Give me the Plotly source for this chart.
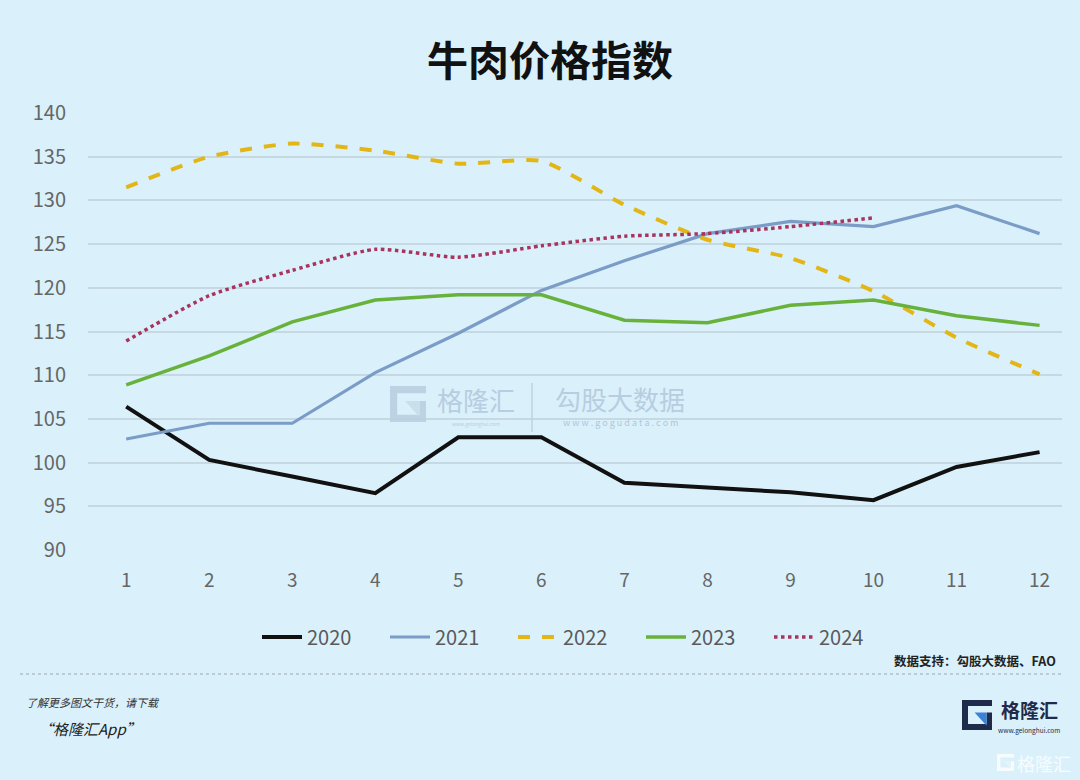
import plotly.graph_objects as go

months = list(range(1, 13))
tick_labels = [str(m) for m in months]
y_ticks = [90, 95, 100, 105, 110, 115, 120, 125, 130, 135, 140]

v2020 = [106.4, 100.3, 98.4, 96.5, 102.9, 102.9, 97.7, 97.1, 96.6, 95.7, 99.5, 101.2]
v2021 = [102.7, 104.5, 104.5, 110.3, 114.8, 119.7, 123.1, 126.2, 127.6, 127.0, 129.4, 126.2]
v2022 = [131.5, 135.0, 136.5, 135.7, 134.2, 134.5, 129.5, 125.5, 123.4, 119.6, 114.3, 110.1]
v2023 = [108.9, 112.2, 116.1, 118.6, 119.2, 119.2, 116.3, 116.0, 118.0, 118.6, 116.8, 115.7]
v2024 = [113.9, 119.1, 122.0, 124.4, 123.5, 124.8, 125.9, 126.2, 127.0, 128.0]

FW, FH = 1080, 780
L, R, T, B = 88, 18, 113, 230
W = FW - L - R
H = FH - T - B


def PX(x):
    return (x - L) / W


def PY(y):
    return 1 - (y - T) / H


BG = "#daf1fb"
FONT = "Noto Sans CJK SC"

fig = go.Figure()
fig.add_trace(go.Scatter(x=months, y=v2020, name="2020", mode="lines",
                         line=dict(color="#111111", width=4)))
fig.add_trace(go.Scatter(x=months, y=v2021, name="2021", mode="lines",
                         line=dict(color="#7a9cc6", width=3.2)))
fig.add_trace(go.Scatter(x=months, y=v2022, name="2022", mode="lines",
                         line=dict(color="#e3b617", width=4, dash="dash", shape="spline", smoothing=0.6)))
fig.add_trace(go.Scatter(x=months, y=v2023, name="2023", mode="lines",
                         line=dict(color="#68b23c", width=3.5)))
fig.add_trace(go.Scatter(x=months[:len(v2024)], y=v2024, name="2024", mode="lines",
                         line=dict(color="#a8335e", width=3.5, dash="dot", shape="spline", smoothing=0.6)))

shapes = []
annotations = []


def g_logo(x0, y0, s, navy, blue, opacity=1.0):
    def P(u, v):
        return f"{PX(x0 + u * s):.5f},{PY(y0 + v * s):.5f}"
    outer = [(1, 0), (0, 0), (0, 1), (1, 1), (1, 0.42), (0.82, 0.42), (0.82, 0.8),
             (0.2, 0.8), (0.2, 0.2), (1, 0.2)]
    path = "M " + " L ".join(P(u, v) for u, v in outer) + " Z"
    shapes.append(dict(type="path", xref="paper", yref="paper", path=path,
                       fillcolor=navy, line=dict(width=0), opacity=opacity, layer="above"))
    tri = [(0.42, 0.42), (0.82, 0.42), (0.82, 0.86)]
    path2 = "M " + " L ".join(P(u, v) for u, v in tri) + " Z"
    shapes.append(dict(type="path", xref="paper", yref="paper", path=path2,
                       fillcolor=blue, line=dict(width=0), opacity=opacity, layer="above"))


def txt(x, y, text, size, color, xanchor="center", bold=False, italic=False, family=FONT):
    t = text
    if bold:
        t = f"<b>{t}</b>"
    if italic:
        t = f"<i>{t}</i>"
    annotations.append(dict(x=PX(x), y=PY(y), xref="paper", yref="paper", text=t,
                            showarrow=False, xanchor=xanchor, yanchor="middle",
                            font=dict(size=size, color=color, family=family)))


# Title
txt(550, 58, "牛肉价格指数", 41, "#111111", bold=True)

# Center watermark
g_logo(390, 386, 36, "#b9cfe0", "#c8dbe9", 0.9)
txt(476, 399, "格隆汇", 26, "#b7cde0")
txt(476, 424, "www.gelonghui.com", 5, "#b7cde0")
shapes.append(dict(type="line", xref="paper", yref="paper", x0=PX(532), x1=PX(532),
                   y0=PY(383), y1=PY(432), line=dict(color="#bdd2e2", width=1.5)))
txt(620, 398, "勾股大数据", 26, "#b7cde0")
txt(620, 422, "w w w . g o g u d a t a . c o m", 9, "#b0c6d8")

# Source note and dotted separator
txt(1058, 660, "数据支持：勾股大数据、FAO", 12.5, "#222222", xanchor="right", bold=True)
shapes.append(dict(type="line", xref="paper", yref="paper", x0=PX(20), x1=PX(1062),
                   y0=PY(674), y1=PY(674), line=dict(color="#9aa6ad", width=1, dash="dot")))

# Footer left
txt(24, 702, "了解更多图文干货，请下载", 11, "#333333", xanchor="left", italic=True)
txt(36, 728, "“格隆汇App”", 15, "#222222", xanchor="left", italic=True)

# Footer right logo
g_logo(962, 700, 30, "#1e2b4a", "#3b82d6")
txt(1029, 709, "格隆汇", 19, "#1e2b4a", bold=True)
txt(1029, 730, "www.gelonghui.com", 6.5, "#1e2b4a")

# Faded bottom-right watermark
g_logo(997, 754, 17, "#ffffff", "#e8f4fb", 0.75)
txt(1044, 763, "格隆汇", 18, "rgba(255,255,255,0.8)")

fig.update_layout(
    width=FW, height=FH,
    paper_bgcolor=BG, plot_bgcolor=BG,
    margin=dict(l=L, r=R, t=T, b=B, autoexpand=False),
    font=dict(family=FONT, color="#595959"),
    showlegend=True,
    legend=dict(orientation="h", x=PX(257), y=PY(637), xanchor="left", yanchor="middle",
                font=dict(size=20, color="#595959"), bgcolor="rgba(0,0,0,0)",
                itemwidth=40, entrywidth=73, entrywidthmode="pixels", tracegroupgap=0),
    xaxis=dict(range=[0.54, 12.27], tickmode="array", tickvals=months, ticktext=tick_labels,
               showgrid=False, zeroline=False, showline=False,
               ticks="outside", ticklen=13, tickcolor="rgba(0,0,0,0)",
               tickfont=dict(size=19, color="#666666")),
    yaxis=dict(range=[90, 140], tickmode="array", tickvals=y_ticks,
               showgrid=True, gridcolor="#c6d9e2", gridwidth=1.5, zeroline=False, showline=False,
               ticks="outside", ticklen=17, tickcolor="rgba(0,0,0,0)",
               tickfont=dict(size=20, color="#666666")),
    shapes=shapes,
    annotations=annotations,
)

fig.write_html("out.html", config={"displayModeBar": False},
               post_script="document.body.style.margin='0';document.body.style.overflow='hidden';"
                           "document.body.style.background='#daf1fb';")
